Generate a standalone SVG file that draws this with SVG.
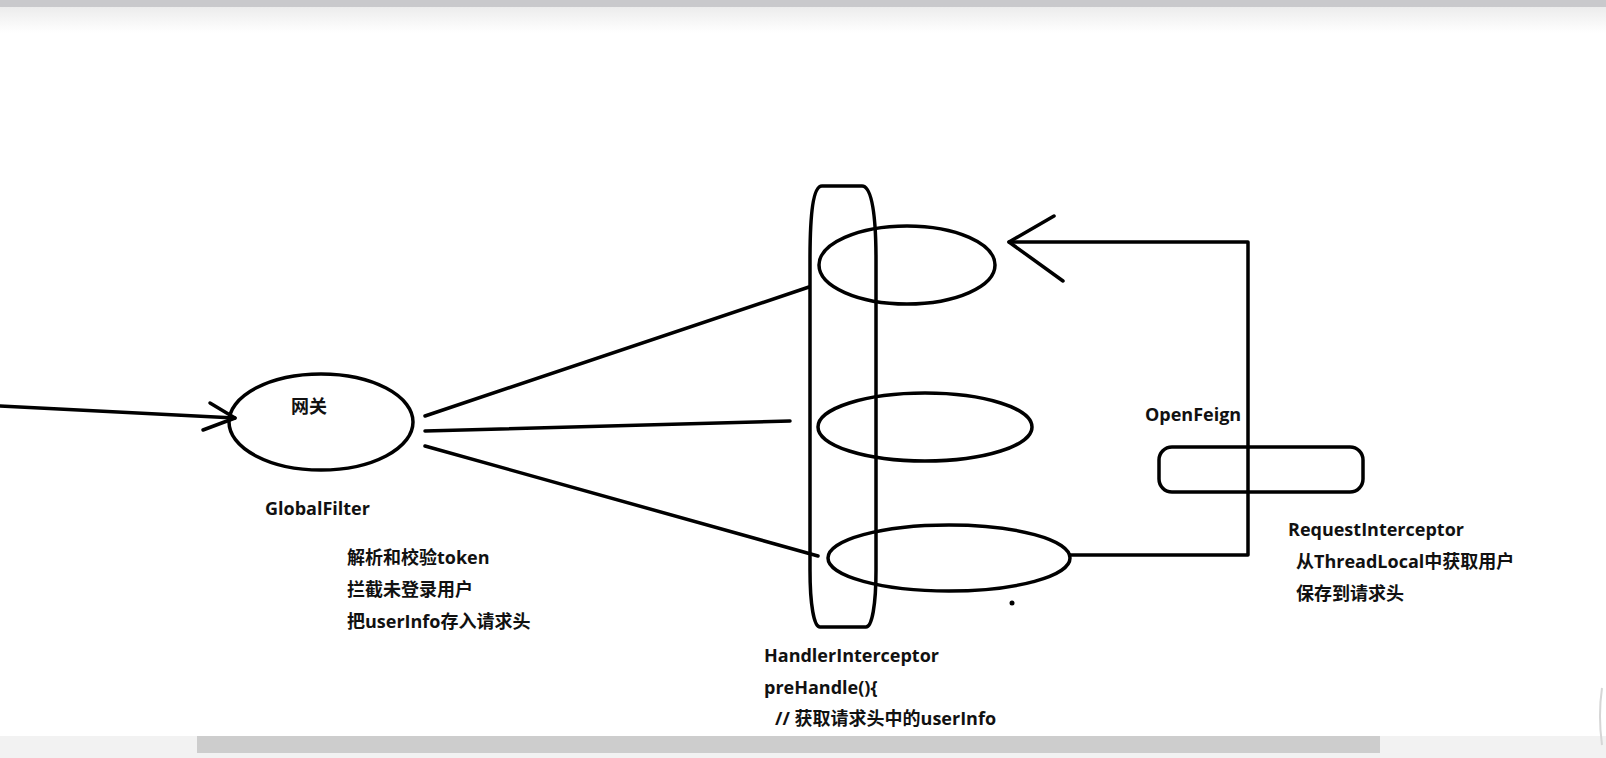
<svg xmlns="http://www.w3.org/2000/svg" width="1606" height="758" viewBox="0 0 1606 758">
<style>
.s{fill:none;stroke:#000;stroke-width:3.5;stroke-linecap:round;stroke-linejoin:round}
.t{font-family:"Open Sans","Noto Sans CJK SC",sans-serif;font-weight:700;font-size:18px;fill:#111}
</style>
<defs>
<linearGradient id="topg" x1="0" y1="0" x2="0" y2="1">
<stop offset="0" stop-color="#ececec"/>
<stop offset="1" stop-color="#ffffff"/>
</linearGradient>
</defs>
<rect width="1606" height="758" fill="#fff"/>
<rect x="0" y="0" width="1606" height="7" fill="#c9c9cc"/>
<rect x="0" y="7" width="1606" height="26" fill="url(#topg)"/>
<g id="scrollbar">
<rect x="0" y="736" width="1606" height="22" fill="#f2f2f2"/>
<rect x="197" y="736" width="1183" height="17" fill="#cdcdcd"/>
<path d="M1602,688 Q1598,715 1602,745" fill="none" stroke="#d6d6d6" stroke-width="2"/>
</g>
<g id="connectors">
<line class="s" x1="0" y1="406" x2="235" y2="418"/>
<polyline class="s" points="210,403 235,418 203,430"/>
<line class="s" x1="425" y1="416" x2="809" y2="287"/>
<line class="s" x1="425" y1="431" x2="790" y2="421"/>
<line class="s" x1="425" y1="446" x2="818" y2="556"/>
<polyline class="s" points="1070,555 1248,555 1248,242 1009,242"/>
<polyline class="s" points="1054,216 1009,242 1063,281"/>
</g>
<g id="gateway">
<ellipse class="s" cx="321" cy="422" rx="92" ry="48"/>
<text class="t" x="291" y="413">网关</text>
</g>
<g id="globalfilter-text">
<text class="t" x="265" y="515">GlobalFilter</text>
<text class="t" x="347" y="564">解析和校验token</text>
<text class="t" x="347" y="596">拦截未登录用户</text>
<text class="t" x="347" y="628">把userInfo存入请求头</text>
</g>
<g id="handler-interceptor">
<path class="s" d="M822,186 L862,186 C872,186 876,215 876,260 L876,570 C876,605 872,627 866,627 L820,627 C814,627 810,605 810,570 L810,260 C810,215 813,186 822,186 Z"/>
<text class="t" x="764" y="662">HandlerInterceptor</text>
<text class="t" x="764" y="694">preHandle(){</text>
<text class="t" x="775" y="725">// 获取请求头中的userInfo</text>
</g>
<g id="service-top">
<ellipse class="s" cx="907" cy="265" rx="88" ry="39"/>
</g>
<g id="service-middle">
<ellipse class="s" cx="925" cy="427" rx="107" ry="34"/>
</g>
<g id="service-bottom">
<ellipse class="s" cx="949" cy="558" rx="121" ry="33"/>
</g>
<circle cx="1012" cy="603" r="2.5" fill="#000"/>
<g id="openfeign">
<rect class="s" x="1159" y="447" width="204" height="45" rx="13"/>
<text class="t" x="1145" y="421">OpenFeign</text>
</g>
<g id="request-interceptor-text">
<text class="t" x="1288" y="536">RequestInterceptor</text>
<text class="t" x="1296" y="568">从ThreadLocal中获取用户</text>
<text class="t" x="1296" y="600">保存到请求头</text>
</g>
</svg>
